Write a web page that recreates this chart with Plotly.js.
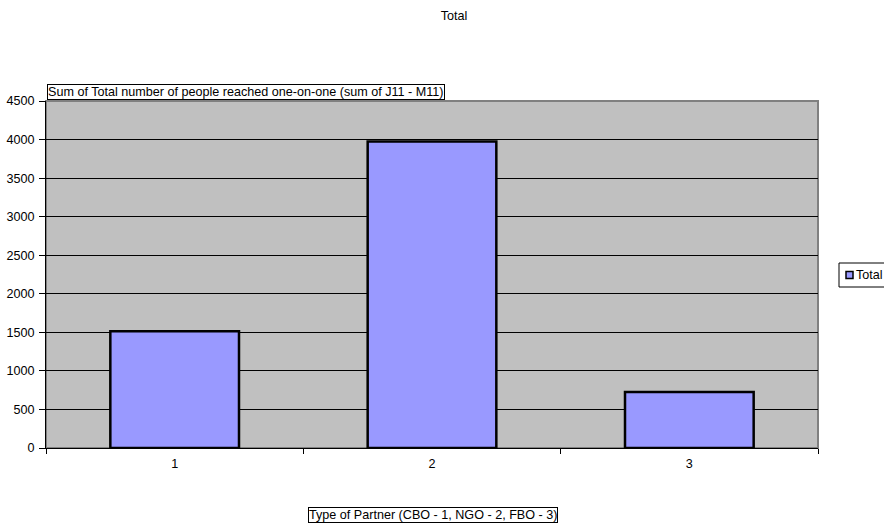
<!DOCTYPE html>
<html><head><meta charset="utf-8">
<script src="https://cdn.plot.ly/plotly-3.0.1.min.js"></script>
<style>body{margin:0;padding:0;background:#fff}#chart{width:884px;height:525px}</style>
</head><body><div id="chart"></div>
<script>
const categories = ["1", "2", "3"];
const totals = [1515, 3975, 725];
const seriesName = "Total";
const yTicks = [0, 500, 1000, 1500, 2000, 2500, 3000, 3500, 4000, 4500];

const FAM = "Liberation Sans, Arial, sans-serif";
const FS = 12.6;
const M = {l: 46, r: 66, t: 101, b: 77};
const W = 884, H = 525;
const PW = W - M.l - M.r, PH = H - M.t - M.b;
const px = v => (v - M.l) / PW;
const py = v => (H - M.b - v) / PH;

const trace = {
  type: "bar", x: categories, y: totals, name: seriesName,
  marker: {color: "#9999FF", line: {color: "#000", width: 2.5}},
  showlegend: false
};
const layout = {
  width: W, height: H,
  margin: Object.assign({autoexpand: false}, M),
  paper_bgcolor: "#fff", plot_bgcolor: "#C0C0C0",
  font: {family: FAM, size: FS, color: "#000"},
  title: {text: "Total", x: px(454), xanchor: "center", xref: "paper", y: 1 - 16 / H, yanchor: "middle", font: {family: FAM, size: FS}},
  bargap: 0.5,
  xaxis: {type: "category", showgrid: false, showline: true, linecolor: "#000", linewidth: 1,
    ticks: "outside", tickson: "boundaries", ticklen: 5, tickcolor: "#000",
    ticklabelstandoff: 4, zeroline: false},
  yaxis: {range: [0, 4500], tickvals: yTicks, showgrid: true, gridcolor: "#000", gridwidth: 1,
    showline: true, linecolor: "#000", linewidth: 1, ticks: "outside", ticklen: 6, tickcolor: "#000",
    ticklabelstandoff: 2, zeroline: false},
  showlegend: false,
  shapes: [
    {type: "rect", xref: "paper", yref: "paper", x0: 0, x1: 1, y0: 0, y1: 1, line: {color: "#808080", width: 2}, layer: "below"},
    {type: "rect", xref: "paper", yref: "paper", x0: px(839), x1: px(892), y0: py(287), y1: py(263), line: {color: "#000", width: 1}, fillcolor: "#fff"},
    {type: "rect", xref: "paper", yref: "paper", x0: px(846), x1: px(853), y0: py(278.5), y1: py(271.5), line: {color: "#000", width: 1.5}, fillcolor: "#9999FF"}
  ],
  annotations: [
    {text: seriesName, xref: "paper", yref: "paper", x: px(854), xanchor: "left", y: py(275), yanchor: "middle",
     showarrow: false, font: {family: FAM, size: FS}},
    {text: "Sum of Total number of people reached one-on-one (sum of J11 - M11)", xref: "paper", yref: "paper",
     x: px(46.5), xanchor: "left", y: py(100), yanchor: "bottom", showarrow: false, bordercolor: "#000", borderwidth: 1,
     borderpad: 0, bgcolor: "#fff", font: {family: FAM, size: FS}},
    {text: "Type of Partner (CBO - 1, NGO - 2, FBO - 3)", xref: "paper", yref: "paper",
     x: px(432.5), xanchor: "center", y: py(515), yanchor: "middle", showarrow: false, bordercolor: "#000", borderwidth: 1,
     borderpad: 0, bgcolor: "#fff", font: {family: FAM, size: FS}}
  ]
};
Plotly.newPlot("chart", [trace], layout, {displayModeBar: false, staticPlot: true});
</script></body></html>
